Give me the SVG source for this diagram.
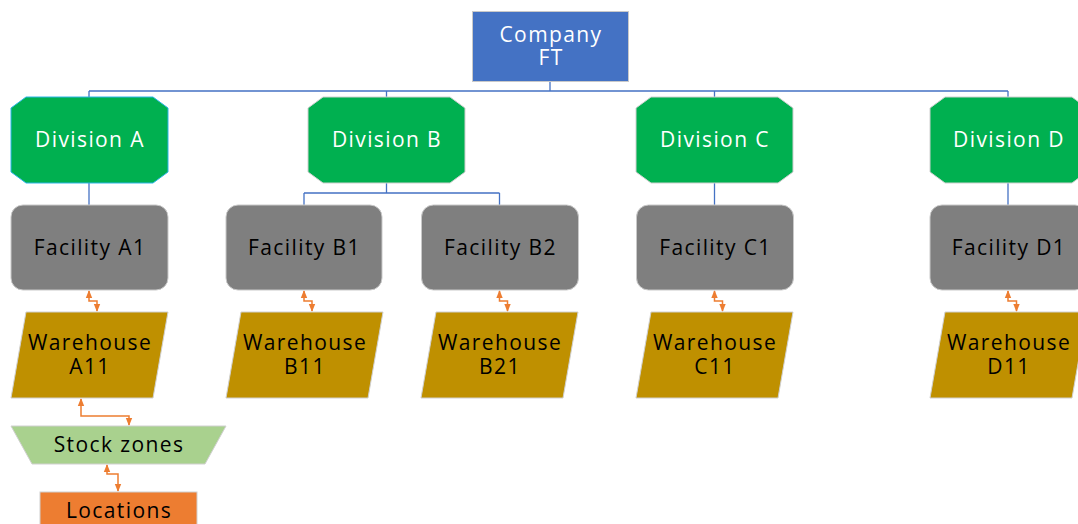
<svg xmlns="http://www.w3.org/2000/svg" width="1078" height="524" viewBox="0 0 1078 524">
<style>
  .lbl{font-family:"Open Sans","Noto Sans","Liberation Sans",sans-serif;font-size:21px;letter-spacing:1.4px;text-anchor:middle;dominant-baseline:central}
  .w{fill:#ffffff}
  .k{fill:#000000}
  .company{fill:#4472C4;stroke:#C9C9C9;stroke-width:1}
  .div{fill:#00B050;stroke:#D0D0D0;stroke-width:1}
  .fac{fill:#7F7F7F;stroke:#C9C9C9;stroke-width:1}
  .wh{fill:#BF9000;stroke:#D0D0D0;stroke-width:1}
  .sz{fill:#A9D18E;stroke:#D0D0D0;stroke-width:1}
  .loc{fill:#ED7D31;stroke:#D0D0D0;stroke-width:1}
  .tree{fill:none;stroke:#4472C4;stroke-width:1.3}
  .link{fill:none;stroke:#ED7D31;stroke-width:1.5;marker-start:url(#ah);marker-end:url(#ah)}
</style>
<defs>
  <marker id="ah" viewBox="0 0 8 8" refX="7" refY="4" markerWidth="8" markerHeight="8" markerUnits="userSpaceOnUse" orient="auto-start-reverse">
    <path d="M0,0.8 L8,4 L0,7.2 Z" fill="#ED7D31"/>
  </marker>
</defs>
<rect width="1078" height="524" fill="#ffffff"/>

<g id="connectors">
  <path class="tree" d="M550,82 V91 M89,91 H1008 M89,91 V97 M386.5,91 V97 M714.5,91 V97 M1008,91 V97"/>
  <path class="tree" d="M89,183 V205"/>
  <path class="tree" d="M386.5,183 V193 M304,193 H499.5 M304,193 V205 M499.5,193 V205"/>
  <path class="tree" d="M714.5,183 V205"/>
  <path class="tree" d="M1008,183 V205"/>
  <path class="link" d="M89,291 V301 H97 V311"/>
  <path class="link" d="M304,291 V301 H312 V311"/>
  <path class="link" d="M499.5,291 V301 H507.5 V311"/>
  <path class="link" d="M714.5,291 V301 H722.5 V311"/>
  <path class="link" d="M1008,291 V301 H1016.5 V311"/>
  <path class="link" d="M81,399 V416 H129 V425"/>
  <path class="link" d="M107,465 V474 H118 V491"/>
</g>

<g id="company">
  <rect class="company" x="472.5" y="11.5" width="156" height="70"/>
  <text class="lbl w" x="551" y="34">Company</text>
  <text class="lbl w" x="551" y="57">FT</text>
</g>

<g id="divisionA">
  <path class="div" style="stroke:#2FB5E8" d="M26,97 H153 L168,108 V172 L153,183 H26 L11,172 V108 Z"/>
  <text class="lbl w" x="90" y="139">Division A</text>
</g>
<g id="divisionB">
  <path class="div" d="M323,97 H450 L465,108 V172 L450,183 H323 L308,172 V108 Z"/>
  <text class="lbl w" x="387" y="139">Division B</text>
</g>
<g id="divisionC">
  <path class="div" d="M651,97 H778 L793,108 V172 L778,183 H651 L636,172 V108 Z"/>
  <text class="lbl w" x="715" y="139">Division C</text>
</g>
<g id="divisionD">
  <path class="div" d="M945,97 H1072 L1087,108 V172 L1072,183 H945 L930,172 V108 Z"/>
  <text class="lbl w" x="1009" y="139">Division D</text>
</g>

<g id="facilityA1">
  <rect class="fac" x="11" y="205" width="157" height="85" rx="12"/>
  <text class="lbl k" x="90" y="247">Facility A1</text>
</g>
<g id="facilityB1">
  <rect class="fac" x="226" y="205" width="156" height="85" rx="12"/>
  <text class="lbl k" x="304.5" y="247">Facility B1</text>
</g>
<g id="facilityB2">
  <rect class="fac" x="421.5" y="205" width="157" height="85" rx="12"/>
  <text class="lbl k" x="500.5" y="247">Facility B2</text>
</g>
<g id="facilityC1">
  <rect class="fac" x="636.5" y="205" width="157" height="85" rx="12"/>
  <text class="lbl k" x="715.5" y="247">Facility C1</text>
</g>
<g id="facilityD1">
  <rect class="fac" x="930" y="205" width="157" height="85" rx="12"/>
  <text class="lbl k" x="1009" y="247">Facility D1</text>
</g>

<g id="warehouseA11">
  <path class="wh" d="M26,312 H168 L153,398 H11 Z"/>
  <text class="lbl k" x="90" y="342">Warehouse</text>
  <text class="lbl k" x="90" y="366">A11</text>
</g>
<g id="warehouseB11">
  <path class="wh" d="M241,312 H383 L368,398 H226 Z"/>
  <text class="lbl k" x="305" y="342">Warehouse</text>
  <text class="lbl k" x="305" y="366">B11</text>
</g>
<g id="warehouseB21">
  <path class="wh" d="M436,312 H578 L563,398 H421 Z"/>
  <text class="lbl k" x="500" y="342">Warehouse</text>
  <text class="lbl k" x="500" y="366">B21</text>
</g>
<g id="warehouseC11">
  <path class="wh" d="M651,312 H793 L778,398 H636 Z"/>
  <text class="lbl k" x="715" y="342">Warehouse</text>
  <text class="lbl k" x="715" y="366">C11</text>
</g>
<g id="warehouseD11">
  <path class="wh" d="M945,312 H1087 L1072,398 H930 Z"/>
  <text class="lbl k" x="1009" y="342">Warehouse</text>
  <text class="lbl k" x="1009" y="366">D11</text>
</g>

<g id="stockZones">
  <path class="sz" d="M11,426 H226 L205,464 H32 Z"/>
  <text class="lbl k" x="119" y="444">Stock zones</text>
</g>

<g id="locations">
  <rect class="loc" x="40" y="492" width="157" height="40"/>
  <text class="lbl k" x="119" y="510">Locations</text>
</g>
</svg>
